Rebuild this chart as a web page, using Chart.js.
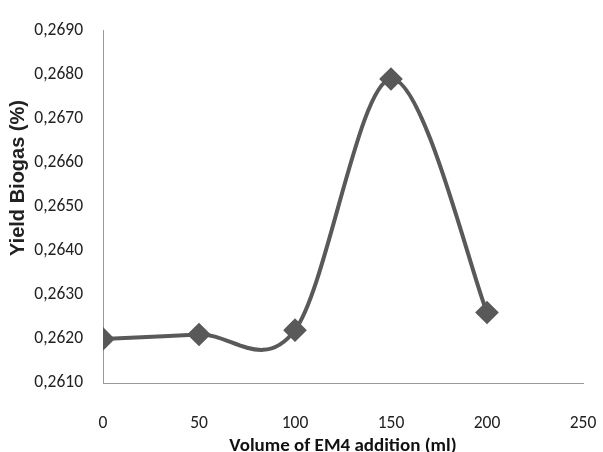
<!DOCTYPE html>
<html>
<head>
<meta charset="utf-8">
<script src="https://cdn.jsdelivr.net/npm/chart.js@4/dist/chart.umd.min.js"></script>
<style>
  html, body { margin: 0; padding: 0; background: #fff; }
  #wrap { width: 603px; height: 452px; }
</style>
</head>
<body>
<div id="wrap"><canvas id="chartYield" width="603" height="452"></canvas></div>
<script>
// EM4 volume (ml) and biogas yield (%)
const volumes = [0, 50, 100, 150, 200];
const yields = [0.2620, 0.2621, 0.2622, 0.2679, 0.2626];

const xTicks = [0, 50, 100, 150, 200, 250];
const yMin = 0.2610;
const yMax = 0.2690;
const yStep = 0.0010;
const yTitle = 'Yield Biogas (%)';

const tickFont = { family: "Carlito, 'Liberation Sans Narrow', Lato, sans-serif", size: 17.5 };
const gray = '#595959';

// y title sits a bit above the middle of the axis, as in the original
const yTitlePlugin = {
    id: 'yTitle',
    afterDraw(chart) {
        const c = chart.ctx;
        c.save();
        c.translate(18, 178);
        c.rotate(-Math.PI / 2);
        c.font = "bold 20px 'Liberation Sans', Arial, sans-serif";
        c.fillStyle = '#222';
        c.textAlign = 'center';
        c.textBaseline = 'middle';
        c.fillText(yTitle, 0, 0);
        c.restore();
    }
};

// spreadsheet-style smoothing (Catmull-Rom, 1/6 of the neighbour span)
const smoothPlugin = {
    id: 'smoothLine',
    beforeDatasetDraw(chart, args) {
        const meta = args.meta;
        const pts = meta.data;
        meta.dataset.updateControlPoints(chart.chartArea, 'x');
        const n = pts.length;
        for (let i = 0; i < n; i++) {
            const a = pts[Math.max(i - 1, 0)];
            const b = pts[Math.min(i + 1, n - 1)];
            const dx = (b.x - a.x) / 6;
            const dy = (b.y - a.y) / 6;
            pts[i].cp1x = pts[i].x - dx;
            pts[i].cp1y = pts[i].y - dy;
            pts[i].cp2x = pts[i].x + dx;
            pts[i].cp2y = pts[i].y + dy;
        }
    }
};

const ctx = document.getElementById('chartYield').getContext('2d');

new Chart(ctx, {
    type: 'line',
    data: {
        datasets: [{
            data: volumes.map((v, i) => ({ x: v, y: yields[i] })),
            borderColor: gray,
            backgroundColor: gray,
            borderWidth: 4,
            tension: 0.4,
            pointStyle: 'rectRot',
            pointRadius: 9,
            pointHoverRadius: 9,
            fill: false
        }]
    },
    options: {
        responsive: false,
        animation: false,
        layout: { padding: { top: 23, right: 0, left: 0, bottom: 0 } },
        plugins: {
            legend: { display: false },
            tooltip: { enabled: false }
        },
        scales: {
            x: {
                type: 'linear',
                min: 0,
                max: 250,
                afterBuildTicks: (scale) => { scale.ticks = xTicks.map(v => ({ value: v })); },
                afterFit: (scale) => { scale.height = 69; scale.paddingRight = 20; },
                grid: { display: false, drawTicks: false },
                border: { display: true, color: '#9a9a9a', width: 1 },
                ticks: { color: '#222', font: tickFont, padding: 30, maxRotation: 0 },
                title: {
                    display: true,
                    text: 'Volume of EM4 addition (ml)',
                    color: '#111',
                    font: { family: "Carlito, 'Liberation Sans Narrow', Lato, sans-serif", size: 19, weight: 'bold' },
                    padding: { top: 0, bottom: -6 }
                }
            },
            y: {
                min: yMin,
                max: yMax,
                afterFit: (scale) => { scale.width = 103; },
                grid: { display: false, drawTicks: false },
                border: { display: true, color: '#9a9a9a', width: 1 },
                ticks: {
                    stepSize: yStep,
                    color: '#222',
                    font: tickFont,
                    padding: 20,
                    callback: (v) => v.toFixed(4).replace('.', ',')
                }
            }
        }
    },
    plugins: [yTitlePlugin, smoothPlugin]
});
</script>
</body>
</html>
